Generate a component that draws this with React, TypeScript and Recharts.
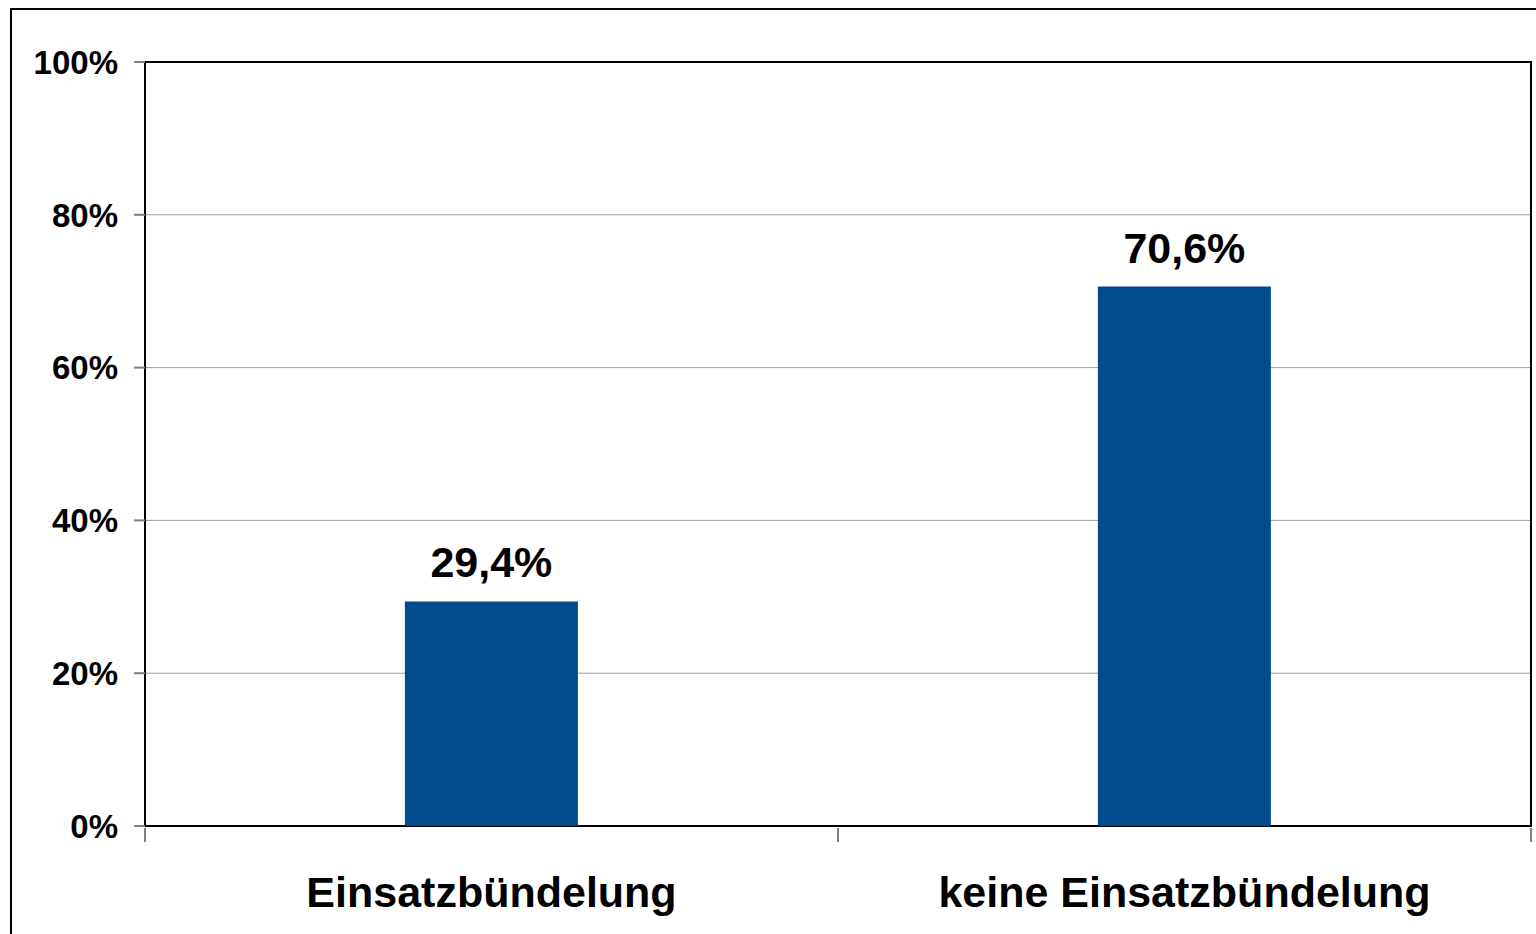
import { BarChart, Bar, XAxis, YAxis, CartesianGrid, ReferenceArea, LabelList } from "recharts";

const categories = ["Einsatzbündelung", "keine Einsatzbündelung"];
const shares = [29.4, 70.6];
const yTicks = [0, 20, 40, 60, 80, 100];

const data = categories.map((name, i) => ({ name, value: shares[i] }));

const W = 1536;
const H = 934;
const FONT = "'Liberation Sans', Arial, sans-serif";

// tick marks sit on the category boundaries, not the centres
const CategoryTick = (props: any) => {
  const { x, y, payload, index, width } = props;
  const half = width / categories.length / 2;
  return (
    <g>
      <line x1={x - half} y1={y - 6} x2={x - half} y2={y + 8} stroke="#808080" strokeWidth={2} />
      {index === categories.length - 1 && (
        <line x1={x + half} y1={y - 6} x2={x + half} y2={y + 8} stroke="#808080" strokeWidth={2} />
      )}
      <text
        x={x}
        y={y + 73}
        textAnchor="middle"
        fontFamily={FONT}
        fontWeight="bold"
        fontSize={43}
        fill="#000"
      >
        {payload.value}
      </text>
    </g>
  );
};

export default function App() {
  return (
    <div style={{ position: "absolute", left: 0, top: 0, width: W, height: H, background: "#fff" }}>
      {/* outer frame */}
      <div
        style={{
          position: "absolute",
          left: 10,
          top: 8,
          right: 0,
          bottom: 0,
          borderLeft: "2px solid #000",
          borderTop: "2px solid #000",
        }}
      />
      <BarChart
        width={W}
        height={H}
        data={data}
        margin={{ top: 62, right: 5, bottom: 28, left: 45 }}
        barCategoryGap="37.5%"
        style={{ position: "absolute", left: 0, top: 0 }}
      >
        <CartesianGrid horizontal vertical={false} stroke="#a0a0a0" strokeWidth={1} />
        <XAxis
          dataKey="name"
          height={80}
          axisLine={false}
          tickLine={false}
          interval={0}
          tick={(p: any) => <CategoryTick {...p} width={W - 5 - 145} />}
        />
        <YAxis
          width={100}
          domain={[0, 100]}
          ticks={yTicks}
          interval={0}
          axisLine={false}
          tickSize={11}
          tickMargin={16}
          tickLine={{ stroke: "#808080", strokeWidth: 2 }}
          tickFormatter={(v: number) => `${v}%`}
          tick={{ fontFamily: FONT, fontWeight: "bold", fontSize: 33, fill: "#000" }}
        />
        <Bar dataKey="value" fill="#004B8D" isAnimationActive={false}>
          <LabelList
            dataKey="value"
            position="top"
            offset={24}
            formatter={(v: any) => `${String(v).replace(".", ",")}%`}
            style={{ fontFamily: FONT, fontWeight: "bold", fontSize: 43, fill: "#000" }}
          />
        </Bar>
        <ReferenceArea y1={0} y2={100} fill="none" stroke="#000" strokeWidth={2} ifOverflow="visible" />
      </BarChart>
    </div>
  );
}
